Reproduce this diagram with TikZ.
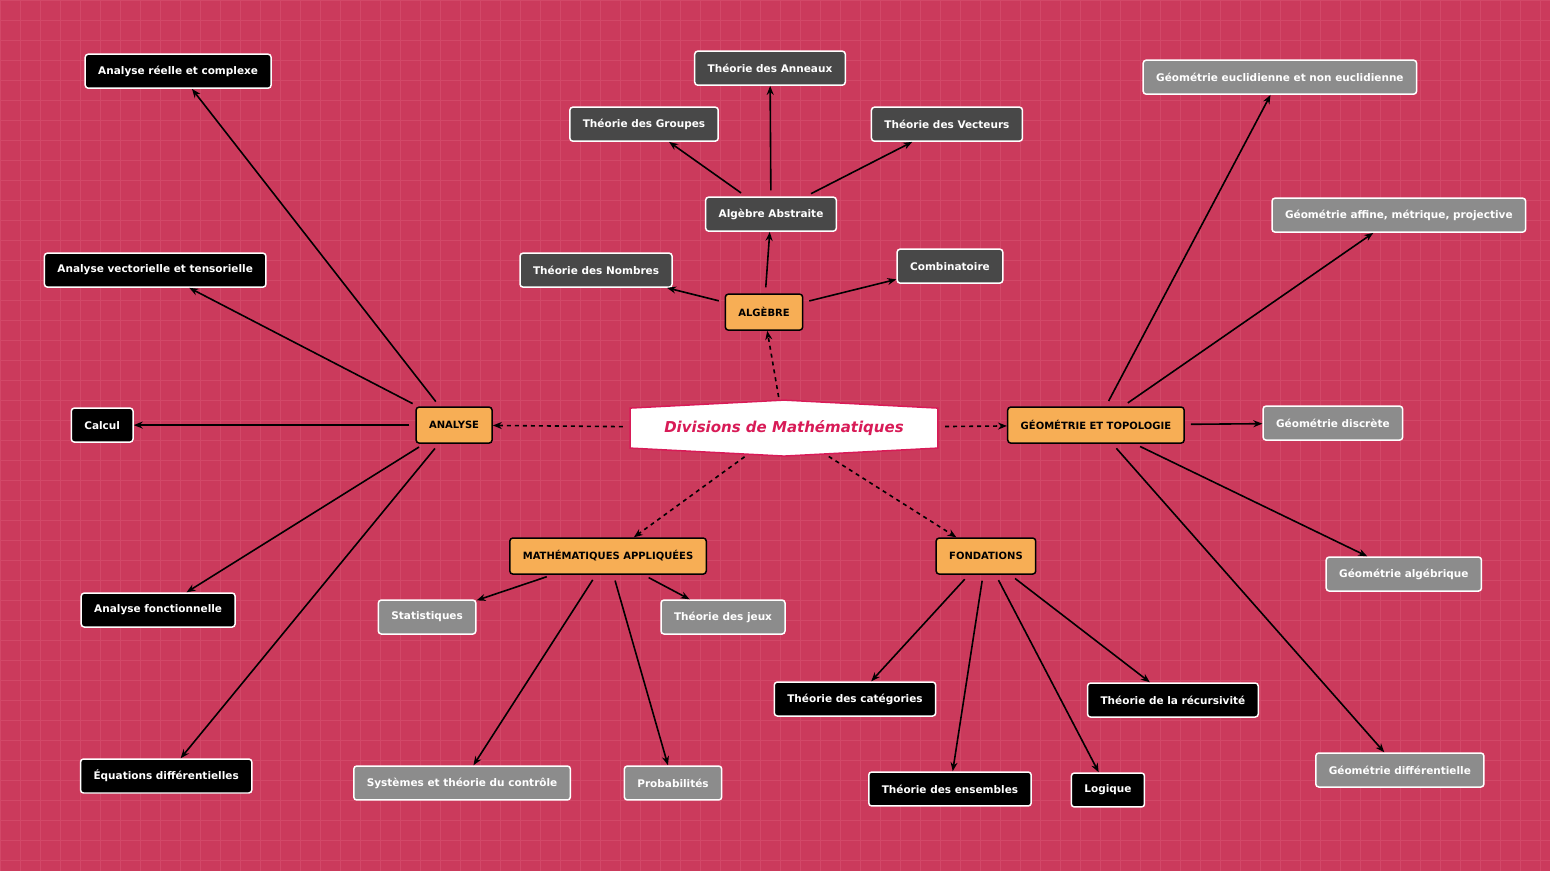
\documentclass[tikz,border=0pt]{standalone}
\usepackage{fontspec}
\setmainfont{DejaVu Sans}
\usetikzlibrary{arrows.meta}
\definecolor{bgcol}{RGB}{203,58,92}
\definecolor{gridcol}{RGB}{210,72,104}
\definecolor{orangecol}{RGB}{247,174,85}
\definecolor{darkcol}{RGB}{72,72,72}
\definecolor{graycol}{RGB}{140,140,140}
\definecolor{titlecol}{RGB}{216,27,87}
\tikzset{
  box/.style={rounded corners=3pt, draw=white, line width=1.5pt, text=white, minimum height=34pt, inner xsep=13pt, font=\fontsize{10.5pt}{12pt}\selectfont\bfseries},
  blackbox/.style={box, fill=black},
  darkbox/.style={box, fill=darkcol},
  graybox/.style={box, fill=graycol},
  mainbox/.style={box, fill=orangecol, draw=black, text=black, minimum height=36pt, font=\fontsize{10pt}{12pt}\selectfont\bfseries},
  link/.style={line width=1.6pt, -{Stealth[length=9pt,width=7pt]}, shorten <=6pt},
  dotlink/.style={link, dash pattern=on 4pt off 4pt},
}
\begin{document}
\begin{tikzpicture}[x=1pt,y=-1pt]
\fill[bgcol] (0,0) rectangle (1550,871);
\draw[gridcol, line width=0.4pt] (0,0) grid[step=20pt] (1550,871);
\useasboundingbox (0,0) rectangle (1550,871);
% centre
\fill[white, draw=titlecol, line width=1.5pt] (630,408) -- (784,400) -- (938,408) -- (938,448) -- (784,456) -- (630,448) -- cycle;
\node (centre) at (784,428) [minimum width=310pt, minimum height=50pt, text=titlecol, font=\fontsize{15pt}{18pt}\selectfont\bfseries\itshape] {Divisions de Mathématiques};
% branches
\node[mainbox] (analyse) at (454,425) {ANALYSE};
\node[mainbox] (algebre) at (764,312) {ALGÈBRE};
\node[mainbox] (geo) at (1096,425) {GÉOMÉTRIE ET TOPOLOGIE};
\node[mainbox] (appl) at (608,556) {MATHÉMATIQUES APPLIQUÉES};
\node[mainbox] (fond) at (986,556) {FONDATIONS};
% analyse
\node[blackbox] (areel) at (178,71) {Analyse réelle et complexe};
\node[blackbox] (avect) at (155,270) {Analyse vectorielle et tensorielle};
\node[blackbox] (calcul) at (102,425) {Calcul};
\node[blackbox] (afonct) at (158,610) {Analyse fonctionnelle};
\node[blackbox] (eqdiff) at (166,776) {Équations différentielles};
% algebre
\node[darkbox] (anneaux) at (770,68) {Théorie des Anneaux};
\node[darkbox] (groupes) at (644,124) {Théorie des Groupes};
\node[darkbox] (vecteurs) at (947,124) {Théorie des Vecteurs};
\node[darkbox] (abstraite) at (771,214) {Algèbre Abstraite};
\node[darkbox] (nombres) at (596,270) {Théorie des Nombres};
\node[darkbox] (combi) at (950,266) {Combinatoire};
% geometrie
\node[graybox] (eucl) at (1280,77) {Géométrie euclidienne et non euclidienne};
\node[graybox] (affine) at (1399,215) {Géométrie affine, métrique, projective};
\node[graybox] (discrete) at (1333,423) {Géométrie discrète};
\node[graybox] (galg) at (1404,574) {Géométrie algébrique};
\node[graybox] (gdiff) at (1400,770) {Géométrie différentielle};
% appliquees
\node[graybox] (stats) at (427,617) {Statistiques};
\node[graybox] (jeux) at (723,617) {Théorie des jeux};
\node[graybox] (systemes) at (462,783) {Systèmes et théorie du contrôle};
\node[graybox] (probas) at (673,783) {Probabilités};
% fondations
\node[blackbox] (categ) at (855,699) {Théorie des catégories};
\node[blackbox] (recurs) at (1173,700) {Théorie de la récursivité};
\node[blackbox] (ensembles) at (950,789) {Théorie des ensembles};
\node[blackbox] (logique) at (1108,790) {Logique};
% liens
\foreach \a/\b in {centre/analyse, centre/algebre, centre/geo, centre/appl, centre/fond}
  \draw[dotlink] (\a) -- (\b);
\foreach \b in {areel, avect, calcul, afonct, eqdiff}
  \draw[link] (analyse) -- (\b);
\foreach \b in {abstraite, nombres, combi}
  \draw[link] (algebre) -- (\b);
\foreach \b in {anneaux, groupes, vecteurs}
  \draw[link] (abstraite) -- (\b);
\foreach \b in {eucl, affine, discrete, galg, gdiff}
  \draw[link] (geo) -- (\b);
\foreach \b in {stats, jeux, systemes, probas}
  \draw[link] (appl) -- (\b);
\foreach \b in {categ, recurs, ensembles, logique}
  \draw[link] (fond) -- (\b);
\end{tikzpicture}
\end{document}
